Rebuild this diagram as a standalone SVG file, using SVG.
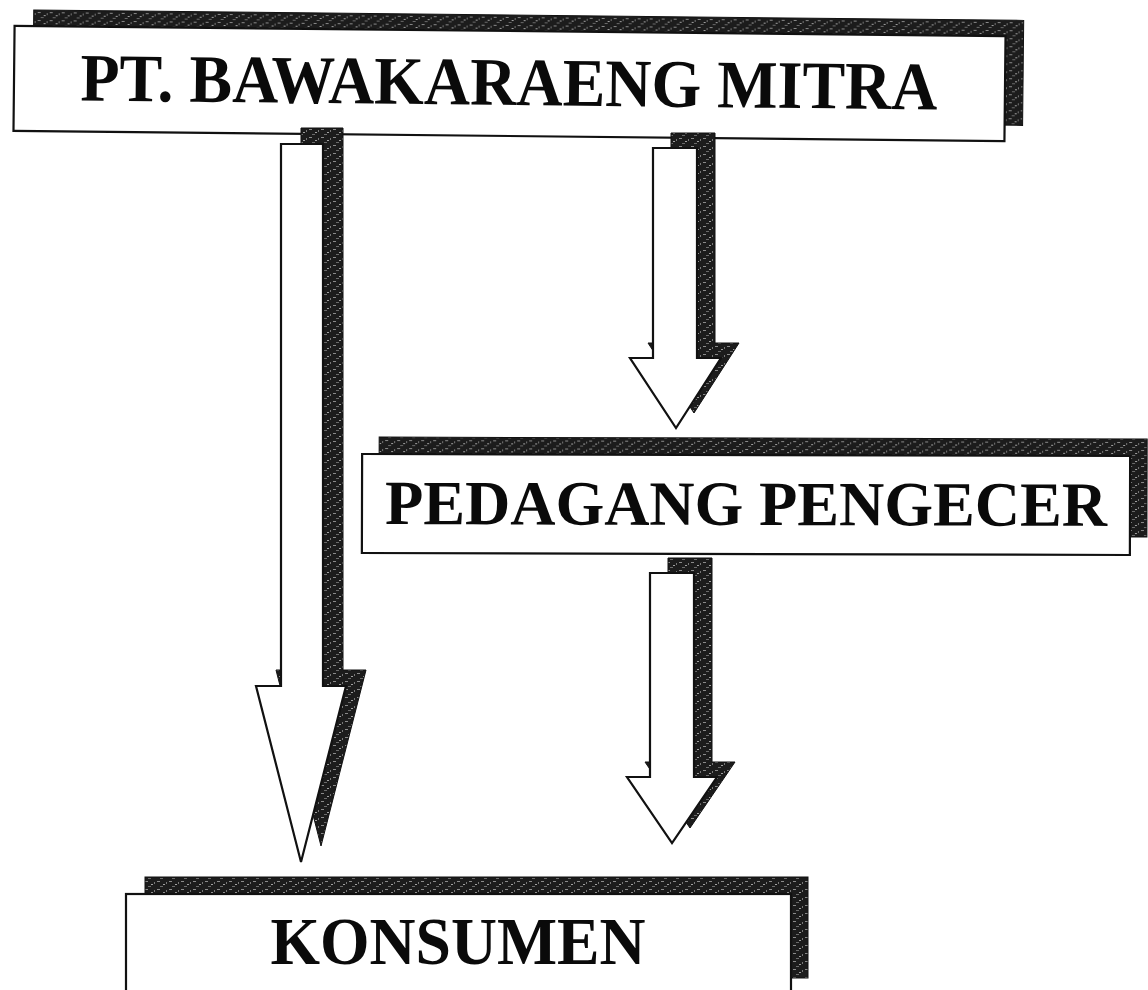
<svg xmlns="http://www.w3.org/2000/svg" width="1148" height="990" viewBox="0 0 1148 990">
  <defs>
    <pattern id="tex" width="12" height="8" patternUnits="userSpaceOnUse">
      <rect width="12" height="8" fill="#1c1c1c"/>
      <rect x="1" y="1" width="3" height="1" fill="#8a8a8a"/>
      <rect x="7" y="4" width="2" height="1" fill="#a0a0a0"/>
      <rect x="4" y="6" width="3" height="1" fill="#6a6a6a"/>
      <rect x="10" y="2" width="1" height="2" fill="#777"/>
    </pattern>
  </defs>
  <style>
    .shadow { fill: url(#tex); stroke: #111; stroke-width: 1; }
    .box { fill: #ffffff; stroke: #111; stroke-width: 2.2; }
    .arrow { fill: #ffffff; stroke: #111; stroke-width: 2.2; stroke-linejoin: miter; }
    .label { font-family: "Liberation Serif", "Times New Roman", serif; font-weight: bold; font-size: 68px; fill: #0a0a0a; text-anchor: middle; }
    .label-mid { font-size: 63px; }
  </style>
  <rect width="1148" height="990" fill="#ffffff"/>

  <g id="node-pt-bawakaraeng" transform="rotate(0.6 510 84)">
    <rect class="shadow" x="33" y="15" width="990" height="105"/>
    <rect class="box" x="14" y="31" width="991" height="105"/>
    <text class="label" x="509" y="105" textLength="857" lengthAdjust="spacingAndGlyphs">PT. BAWAKARAENG MITRA</text>
  </g>

  <g id="node-pedagang-pengecer" transform="rotate(0.15 746 505)">
    <rect class="shadow" x="379" y="438" width="768" height="98"/>
    <rect class="box" x="362" y="455" width="768" height="99"/>
    <text class="label label-mid" x="746" y="525" textLength="722" lengthAdjust="spacingAndGlyphs">PEDAGANG PENGECER</text>
  </g>

  <g id="node-konsumen">
    <rect class="shadow" x="145" y="877" width="663" height="101"/>
    <rect class="box" x="126" y="894" width="665" height="110"/>
    <text class="label" x="458" y="964" textLength="375" lengthAdjust="spacingAndGlyphs">KONSUMEN</text>
  </g>

  <g id="connectors">
    <g id="arrow-pt-konsumen">
      <polygon class="shadow" transform="translate(20 -16)" points="281,144 323,144 323,686 346,686 301,862 256,686 281,686"/>
      <polygon class="arrow" points="281,144 323,144 323,686 346,686 301,862 256,686 281,686"/>
    </g>
    <g id="arrow-pt-pedagang">
      <polygon class="shadow" transform="translate(18 -15)" points="653,148 697,148 697,358 721,358 676,428 630,358 653,358"/>
      <polygon class="arrow" points="653,148 697,148 697,358 721,358 676,428 630,358 653,358"/>
    </g>
    <g id="arrow-pedagang-konsumen">
      <polygon class="shadow" transform="translate(18 -15)" points="650,573 694,573 694,777 717,777 672,843 627,777 650,777"/>
      <polygon class="arrow" points="650,573 694,573 694,777 717,777 672,843 627,777 650,777"/>
    </g>
  </g>
</svg>
